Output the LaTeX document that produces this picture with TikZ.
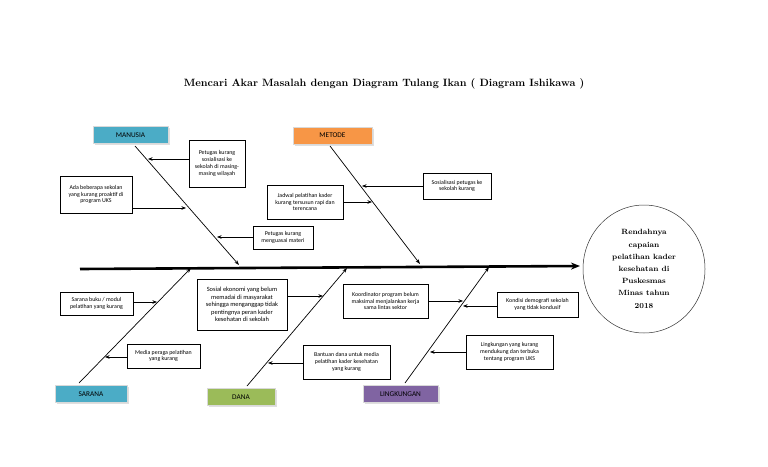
\documentclass[tikz,border=0pt]{standalone}
\usepackage{fontspec}
\newfontfamily\calfont{Carlito}
\usetikzlibrary{arrows.meta,shadows,calc,shapes.geometric}
\definecolor{cteal}{HTML}{4BACC6}
\definecolor{corange}{HTML}{F79646}
\definecolor{cgreen}{HTML}{9BBB59}
\definecolor{cpurple}{HTML}{8064A2}
\tikzset{
  catbox/.style={draw=black!15,line width=0.8pt,minimum width=#1,minimum height=17,inner sep=0pt,
     font=\calfont\fontsize{7.3}{8}\selectfont,
     drop shadow={opacity=0.25,shadow xshift=1.5pt,shadow yshift=-1.5pt}},
  causebox/.style={draw=black,line width=0.7pt,inner sep=0pt,align=center,
     font=\calfont\fontsize{5.9}{6.8}\selectfont},
  bone/.style={draw=black,line width=0.7pt,-{Stealth[length=5pt,width=3.5pt]}},
  arr/.style={draw=black,line width=0.6pt,-{Stealth[length=4.5pt,width=3.5pt]}},
  spine/.style={draw=black,line width=2.6pt,-{Stealth[length=9pt,width=7pt]}},
}
\begin{document}
\begin{tikzpicture}[x=1pt,y=-1pt]
\useasboundingbox[fill=white] (0,0) rectangle (768,466);

% title
\node (title) at (384,84) {\fontsize{10.6}{12}\selectfont\bfseries Mencari Akar Masalah dengan Diagram Tulang Ikan ( Diagram Ishikawa )};

% effect
\node[draw=black!80,line width=0.5pt,ellipse,minimum width=122,minimum height=128,inner sep=0pt,align=center,
  font=\fontsize{7.6}{12.2}\selectfont\bfseries] (effect) at (644,269)
  {Rendahnya\\capaian\\pelatihan kader\\kesehatan di\\Puskesmas\\Minas tahun\\2018};

% spine
\coordinate (spL) at (80,269);
\coordinate (spR) at (580,266);
\draw[spine] (spL) -- (spR);

% category boxes
\node[catbox=75,fill=cteal] (manusia) at (130.5,135) {MANUSIA};
\node[catbox=79,fill=corange] (metode) at (332.5,135.5) {METODE};
\node[catbox=72,fill=cteal] (sarana) at (91,394) {SARANA};
\node[catbox=68,fill=cgreen] (dana) at (241,397) {DANA};
\node[catbox=75,fill=cpurple] (lingkungan) at (400.5,394) {LINGKUNGAN};

% bones
\coordinate (mA) at (135,146); \coordinate (mB) at (239,265);
\coordinate (tA) at (330,146); \coordinate (tB) at (420,264);
\coordinate (sA) at (79,383);  \coordinate (sB) at (191,268);
\coordinate (dA) at (247,386); \coordinate (dB) at (347,268);
\coordinate (lA) at (405,383); \coordinate (lB) at (489,267);
\draw[bone] (mA) -- (mB);
\draw[bone] (tA) -- (tB);
\draw[bone] (sA) -- (sB);
\draw[bone] (dA) -- (dB);
\draw[bone] (lA) -- (lB);

% cause boxes
\node[causebox,minimum width=56,minimum height=47] (p1) at (217,163.5)
  {Petugas kurang\\sosialisasi ke\\sekolah di masing-\\masing wilayah};
\node[causebox,minimum width=72,minimum height=37] (p2) at (96,194.5)
  {Ada beberapa sekolan\\yang kurang proaktif di\\program UKS};
\node[causebox,minimum width=60,minimum height=23] (p3) at (283,237.5)
  {Petugas kurang\\menguasai materi};
\node[causebox,minimum width=68,minimum height=26] (m1) at (457,186)
  {Sosialisasi petugas ke\\sekolah kurang};
\node[causebox,minimum width=76,minimum height=34] (m2) at (305,202)
  {Jadwal pelatihan kader\\kurang tersusun rapi dan\\terencana};
\node[causebox,minimum width=73,minimum height=23] (s1) at (96.5,303.5)
  {Sarana buku / modul\\pelatihan yang kurang};
\node[causebox,minimum width=73,minimum height=24] (s2) at (163.5,356)
  {Media peraga pelatihan\\yang kurang};
\node[causebox,minimum width=90,minimum height=51,font=\calfont\fontsize{6.4}{7.6}\selectfont] (d1) at (242,304.5)
  {Sosial ekonomi yang belum\\memadai di masyarakat\\sehingga menganggap tidak\\pentingnya peran kader\\kesehatan di sekolah};
\node[causebox,minimum width=87,minimum height=34] (d2) at (346.5,362)
  {Bantuan dana untuk media\\pelatihan kader kesehatan\\yang kurang};
\node[causebox,minimum width=85,minimum height=34] (l1) at (385.5,301)
  {Koordinator program belum\\maksimal menjalankan kerja\\sama lintas sektor};
\node[causebox,minimum width=81,minimum height=25] (l2) at (537.5,304.5)
  {Kondisi demografi sekolah\\yang tidak kondusif};
\node[causebox,minimum width=87,minimum height=34] (l3) at (509.5,352)
  {Lingkungan yang kurang\\mendukung dan terbuka\\tentang program UKS};

% arrow tips on bones
\coordinate (a1) at (148,159);
\coordinate (a2) at (186,208);
\coordinate (a3) at (217,237);
\coordinate (b1) at (362,186);
\coordinate (b2) at (372,202);
\coordinate (c1) at (157,302);
\coordinate (c2) at (105,357);
\coordinate (e1) at (323,296);
\coordinate (e2) at (268,363);
\coordinate (f1) at (463,301);
\coordinate (f2) at (463,306);
\coordinate (f3) at (430,352);

\draw[arr] (p1.west |- a1) -- (a1);
\draw[arr] (p2.east |- a2) -- (a2);
\draw[arr] (p3.west |- a3) -- (a3);
\draw[arr] (m1.west |- b1) -- (b1);
\draw[arr] (m2.east |- b2) -- (b2);
\draw[arr] (s1.east |- c1) -- (c1);
\draw[arr] (s2.west |- c2) -- (c2);
\draw[arr] (d1.east |- e1) -- (e1);
\draw[arr] (d2.west |- e2) -- (e2);
\draw[arr] (l1.east |- f1) -- (f1);
\draw[arr] (l2.west |- f2) -- (f2);
\draw[arr] (l3.west |- f3) -- (f3);
\end{tikzpicture}
\end{document}
